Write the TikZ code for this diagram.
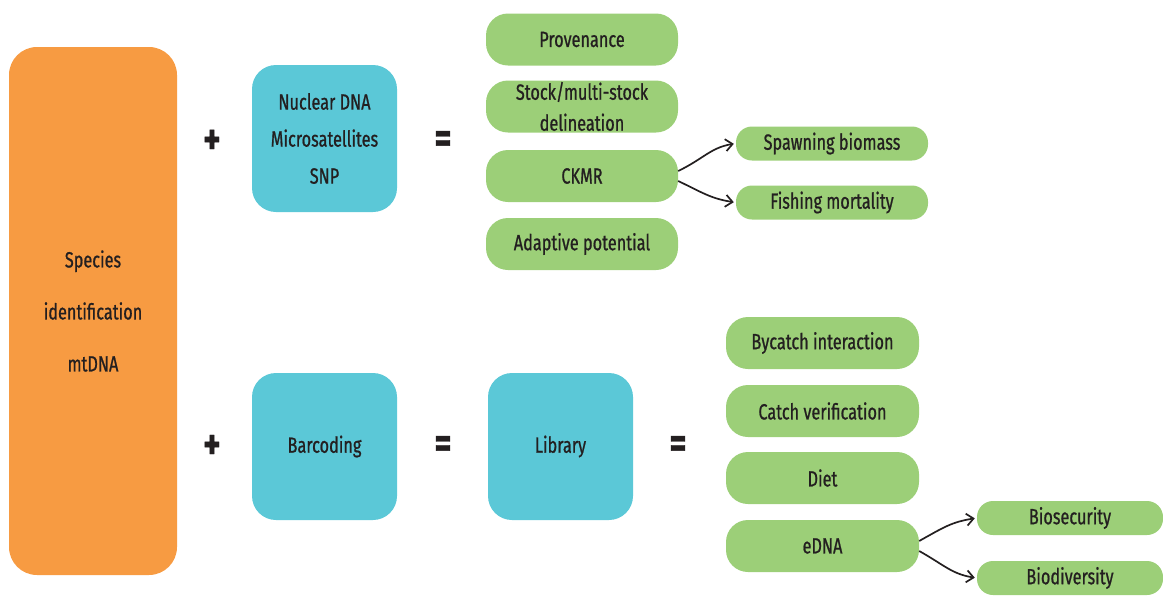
\documentclass[tikz,border=0pt]{standalone}
\usepackage{fontspec}
\setmainfont{Fira Sans}[FakeStretch=0.74,FakeBold=0.8]
\usepackage{xcolor}
\usetikzlibrary{arrows.meta}

\definecolor{specorange}{HTML}{F79B42}
\definecolor{markerblue}{HTML}{5BC8D7}
\definecolor{usegreen}{HTML}{9CCF78}
\definecolor{inkblack}{HTML}{231F20}

\begin{document}
\begin{tikzpicture}[x=1pt,y=-1pt,
		every node/.style={text=inkblack,font=\fontsize{22}{24}\selectfont,align=center,inner sep=0pt},
		speciesbox/.style={fill=specorange,rounded corners=28pt,minimum width=168pt,minimum height=528pt},
		markerbox/.style={fill=markerblue,rounded corners=24pt,minimum width=145pt,minimum height=147pt},
		usebox/.style={fill=usegreen,rounded corners=22pt,minimum width=#1,minimum height=52pt},
		resultbox/.style={fill=usegreen,rounded corners=16pt,minimum width=#1,minimum height=34pt},
		sign/.style={font=\fontsize{44}{44}\bfseries\selectfont},
		link/.style={-{Straight Barb[length=7pt,width=12pt]},line width=1.7pt,draw=inkblack,shorten >=2pt}]
		\useasboundingbox (0,0) rectangle (1163,595);

		% left column
		\node[speciesbox,font=\fontsize{22}{52}\selectfont] (spec) at (93,311) {Species\\identification\\mtDNA};

		% upper row
		\node[sign] (plus-1) at (212,142) {+};
		\node[markerbox,font=\fontsize{22}{37}\selectfont] (nuc) at (324.5,138.5) {Nuclear DNA\\Microsatellites\\SNP};
		\node[sign] (eq-1) at (443,142) {=};
		\node[usebox=192pt] (prov) at (582,39.5) {Provenance};
		\node[usebox=192pt,font=\fontsize{22}{31}\selectfont] (stock) at (582,106.5) {Stock/multi-stock\\delineation};
		\node[usebox=192pt] (ckmr) at (582,176) {CKMR};
		\node[usebox=192pt] (adapt) at (582,244) {Adaptive potential};
		\node[resultbox=192pt] (spawn) at (832,143.5) {Spawning biomass};
		\node[resultbox=192pt] (fish) at (832,202.5) {Fishing mortality};
		\draw[link] ([yshift=5pt]ckmr.east) .. controls +(25,-12) and +(-25,4) .. (spawn.west);
		\draw[link] ([yshift=-5pt]ckmr.east) .. controls +(25,12) and +(-25,-4) .. (fish.west);

		% lower row
		\node[sign] (plus-2) at (212,447) {+};
		\node[markerbox] (bar) at (324.5,446.5) {Barcoding};
		\node[sign] (eq-2) at (443,447) {=};
		\node[markerbox] (lib) at (560.5,446.5) {Library};
		\node[sign] (eq-3) at (678,447) {=};
		\node[usebox=193pt] (byc) at (822.5,343) {Bycatch interaction};
		\node[usebox=193pt] (catch) at (822.5,411) {Catch verification};
		\node[usebox=193pt] (diet) at (822.5,478) {Diet};
		\node[usebox=193pt] (edna) at (822.5,546) {eDNA};
		\node[resultbox=186pt] (biosec) at (1070,518) {Biosecurity};
		\node[resultbox=186pt] (biodiv) at (1070,578) {Biodiversity};
		\draw[link] ([yshift=5pt]edna.east) .. controls +(25,-14) and +(-25,4) .. (biosec.west);
		\draw[link] ([yshift=-5pt]edna.east) .. controls +(25,14) and +(-25,-4) .. (biodiv.west);
	\end{tikzpicture}
\end{document}
